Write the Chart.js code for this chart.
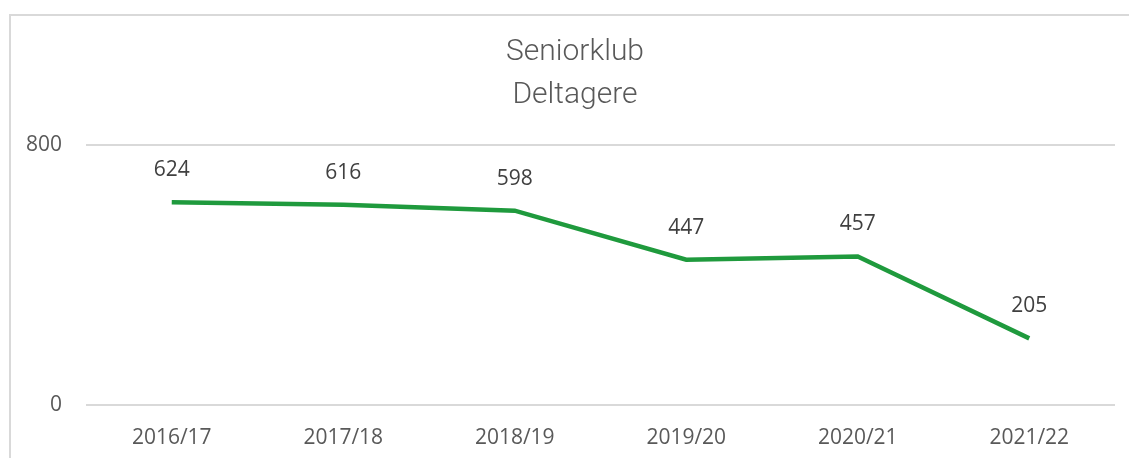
<!DOCTYPE html>
<html>
<head>
<meta charset="utf-8">
<script src="https://cdn.jsdelivr.net/npm/chart.js@4/dist/chart.umd.min.js"></script>
<style>
  html, body { margin: 0; padding: 0; background: #fff; overflow: hidden; }
  #frame { position: absolute; left: 9px; top: 14px; width: 1200px; height: 520px; border: 2px solid #d9d9d9; box-sizing: border-box; }
  #wrap { position: absolute; left: 0; top: 0; width: 1129px; height: 458px; }
</style>
</head>
<body>
<div id="frame"></div>
<div id="wrap"><canvas id="myChart" width="1129" height="458"></canvas></div>
<script>
var seasons = ['2016/17', '2017/18', '2018/19', '2019/20', '2020/21', '2021/22'];
var deltagere = [624, 616, 598, 447, 457, 205];
var yTicks = [0, 800];

// value labels above each point
var pointLabels = {
  id: 'pointLabels',
  afterDatasetsDraw: function(chart) {
    var ctx = chart.ctx;
    var meta = chart.getDatasetMeta(0);
    ctx.save();
    ctx.font = '21px "Open Sans", sans-serif';
    ctx.fillStyle = '#404040';
    ctx.textAlign = 'center';
    ctx.textBaseline = 'middle';
    meta.data.forEach(function(pt, i) {
      ctx.fillText(deltagere[i], pt.x, pt.y - 32);
    });
    ctx.restore();
  }
};

// let the y tick labels spill left of the axis box instead of being clipped
var labelRoom = {
  id: 'labelRoom',
  afterLayout: function(chart) { chart.scales.y.left = 0; }
};

var ctx = document.getElementById('myChart');
var lineChart = new Chart(ctx, {
  type: 'line',
  data: {
    labels: seasons,
    datasets: [{
      label: 'Deltagere',
      data: deltagere,
      borderColor: '#1f9a3d',
      borderWidth: 4.5,
      pointRadius: 0,
      tension: 0,
      fill: false
    }]
  },
  options: {
    responsive: false,
    devicePixelRatio: 1,
    animation: false,
    layout: { padding: { left: 35, right: 14, top: 0, bottom: 0 } },
    plugins: {
      legend: { display: false },
      tooltip: { enabled: false },
      title: {
        display: true,
        text: 'Seniorklub',
        color: '#595959',
        font: { family: 'Roboto, "Open Sans", sans-serif', size: 30, weight: 300 },
        padding: { top: 34, bottom: 0 }
      },
      subtitle: {
        display: true,
        text: 'Deltagere',
        color: '#595959',
        font: { family: 'Roboto, "Open Sans", sans-serif', size: 30, weight: 300 },
        padding: { top: 7, bottom: 32 }
      }
    },
    scales: {
      x: {
        offset: true,
        afterFit: function(scale) { scale.height = 53; },
        grid: { display: false, drawTicks: false },
        border: { display: false },
        ticks: { color: '#595959', padding: 20, font: { family: '"Open Sans", sans-serif', size: 21 }, maxRotation: 0 }
      },
      y: {
        min: 0,
        max: 800,
        afterBuildTicks: function(scale) {
          scale.ticks = yTicks.map(function(v) { return { value: v }; });
        },
        afterFit: function(scale) { scale.width = 51; },
        grid: { color: '#d9d9d9', lineWidth: 2, drawTicks: false },
        border: { display: false },
        ticks: { color: '#595959', padding: 24, font: { family: '"Open Sans", sans-serif', size: 21 } }
      }
    }
  },
  plugins: [pointLabels, labelRoom]
});
</script>
</body>
</html>
